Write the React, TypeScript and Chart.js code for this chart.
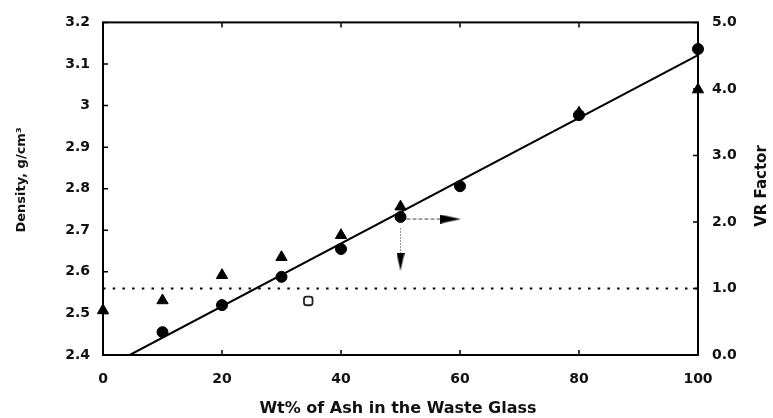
import { useEffect, useRef } from "react";
import { Chart, registerables } from "chart.js";

Chart.register(...registerables);

// ---- data ----
const densityPct = [10, 20, 30, 40, 50, 60, 80, 100];
const densityVals = [2.455, 2.52, 2.588, 2.655, 2.732, 2.806, 2.977, 3.136];

const vrPct = [0, 10, 20, 30, 40, 50, 80, 100];
const vrVals = [0.67, 0.82, 1.2, 1.47, 1.8, 2.23, 3.64, 3.99];

const fitPct = [4.5, 100];
const fitDensity = [2.4, 3.121];

const refPct = [0, 100];
const refVR = [1.0, 1.0];

// arrows (data coordinates)
const arrowRightPct = [50, 57];
const arrowRightDensity = [2.727, 2.727];
const arrowRightHead = { x: 58.4, y: 2.727 };
const arrowDownPct = [50, 50];
const arrowDownDensity = [2.705, 2.645];
const arrowDownHead = { x: 50, y: 2.624 };

const strayMark = { x: 34.5, y: 2.53 };

const xTicks = [0, 20, 40, 60, 80, 100];
const densityTicks = [2.4, 2.5, 2.6, 2.7, 2.8, 2.9, 3.0, 3.1, 3.2];
const vrTicks = [0, 1, 2, 3, 4, 5];

const xTitle = "Wt% of Ash in the Waste Glass";
const leftTitle = "Density, g/cm\u00B3";
const rightTitle = "VR Factor";

const FONT = "'DejaVu Sans', 'Liberation Sans', Arial, sans-serif";

function makeArrowHead(len: number, wid: number): HTMLCanvasElement {
  const c = document.createElement("canvas");
  c.width = len;
  c.height = wid;
  const g = c.getContext("2d")!;
  g.fillStyle = "#000";
  g.beginPath();
  g.moveTo(0, 0);
  g.lineTo(len, wid / 2);
  g.lineTo(0, wid);
  g.closePath();
  g.fill();
  return c;
}

const framePlugin = {
  id: "frameTicks",
  beforeDatasetsDraw(chart: any) {
    const { ctx, chartArea: a, scales } = chart;
    ctx.save();
    ctx.strokeStyle = "#000";
    ctx.lineWidth = 2;
    ctx.strokeRect(a.left, a.top, a.right - a.left, a.bottom - a.top);
    ctx.lineWidth = 1.5;
    const tl = 5;
    ctx.beginPath();
    xTicks.forEach((v) => {
      const px = scales.x.getPixelForValue(v);
      ctx.moveTo(px, a.bottom);
      ctx.lineTo(px, a.bottom - tl);
      ctx.moveTo(px, a.top);
      ctx.lineTo(px, a.top + tl);
    });
    densityTicks.forEach((v) => {
      const py = scales.y.getPixelForValue(v);
      ctx.moveTo(a.left, py);
      ctx.lineTo(a.left + tl, py);
    });
    vrTicks.forEach((v) => {
      const py = scales.y2.getPixelForValue(v);
      ctx.moveTo(a.right, py);
      ctx.lineTo(a.right - tl, py);
    });
    ctx.stroke();
    ctx.restore();
  },
  afterDraw(chart: any) {
    const { ctx } = chart;
    ctx.save();
    ctx.fillStyle = "#111";
    ctx.textAlign = "center";
    ctx.textBaseline = "middle";
    ctx.font = `bold 16px ${FONT}`;
    ctx.fillText(xTitle, 398, 409);
    ctx.font = `bold 13px ${FONT}`;
    ctx.translate(22, 180);
    ctx.rotate(-Math.PI / 2);
    ctx.fillText(leftTitle, 0, 0);
    ctx.restore();
    ctx.save();
    ctx.fillStyle = "#111";
    ctx.textAlign = "center";
    ctx.textBaseline = "middle";
    ctx.font = `bold 15px ${FONT}`;
    ctx.translate(762, 186);
    ctx.rotate(-Math.PI / 2);
    ctx.fillText(rightTitle, 0, 0);
    ctx.restore();
  },
};

export default function App() {
  const ref = useRef<HTMLCanvasElement | null>(null);

  useEffect(() => {
    document.body.style.margin = "0";
    const canvas = ref.current!;
    const headRight = makeArrowHead(21, 9);
    const headDown = makeArrowHead(18, 8);

    const zip = (xs: number[], ys: number[]) => xs.map((x, i) => ({ x, y: ys[i] }));

    const chart = new Chart(canvas, {
      type: "scatter",
      data: {
        datasets: [
          {
            label: "fit",
            data: zip(fitPct, fitDensity),
            showLine: true,
            borderColor: "#000",
            borderWidth: 2,
            pointRadius: 0,
            yAxisID: "y",
          },
          {
            label: "ref",
            data: zip(refPct, refVR),
            showLine: true,
            borderColor: "#000",
            borderWidth: 2,
            borderDash: [2.5, 7.2],
            pointRadius: 0,
            yAxisID: "y2",
          },
          {
            label: "density",
            data: zip(densityPct, densityVals),
            backgroundColor: "#000",
            borderColor: "#000",
            pointStyle: "circle",
            pointRadius: 5.5,
            yAxisID: "y",
            clip: false,
          },
          {
            label: "vr",
            data: zip(vrPct, vrVals),
            backgroundColor: "#000",
            borderColor: "#000",
            pointStyle: "triangle",
            pointRadius: 6.5,
            yAxisID: "y2",
            clip: false,
          },
          {
            label: "arrowR",
            data: zip(arrowRightPct, arrowRightDensity),
            showLine: true,
            borderColor: "#444",
            borderWidth: 1,
            borderDash: [4, 2],
            pointRadius: 0,
            yAxisID: "y",
          },
          {
            label: "arrowRHead",
            data: [arrowRightHead],
            pointStyle: headRight,
            yAxisID: "y",
          },
          {
            label: "arrowD",
            data: zip(arrowDownPct, arrowDownDensity),
            showLine: true,
            borderColor: "#777",
            borderWidth: 1,
            borderDash: [1.5, 1.5],
            pointRadius: 0,
            yAxisID: "y",
          },
          {
            label: "arrowDHead",
            data: [arrowDownHead],
            pointStyle: headDown,
            rotation: 90,
            yAxisID: "y",
          },
          {
            label: "stray",
            data: [strayMark],
            pointStyle: "rectRounded",
            pointRadius: 5,
            backgroundColor: "rgba(0,0,0,0)",
            borderColor: "#222",
            borderWidth: 1.8,
            yAxisID: "y",
          },
        ],
      },
      options: {
        responsive: false,
        animation: false,
        events: [],
        layout: { padding: { top: 22, left: 0, right: 0, bottom: 0 } },
        plugins: { legend: { display: false }, tooltip: { enabled: false } },
        scales: {
          x: {
            type: "linear",
            min: 0,
            max: 100,
            afterBuildTicks: (s: any) => {
              s.ticks = xTicks.map((v) => ({ value: v }));
            },
            afterFit: (s: any) => {
              s.height = 63;
            },
            grid: { display: false, drawTicks: false, tickLength: 0 },
            border: { display: false },
            ticks: {
              color: "#111",
              font: { family: FONT, size: 14, weight: "bold" },
              padding: 16,
              maxRotation: 0,
            },
          },
          y: {
            type: "linear",
            position: "left",
            min: 2.4,
            max: 3.2,
            afterBuildTicks: (s: any) => {
              s.ticks = densityTicks.map((v) => ({ value: v }));
            },
            afterFit: (s: any) => {
              s.width = 103;
            },
            grid: { display: false, drawTicks: false, tickLength: 0 },
            border: { display: false },
            ticks: {
              color: "#111",
              font: { family: FONT, size: 14, weight: "bold" },
              padding: 13,
              callback: (v: any) => String(Number(Number(v).toFixed(1))),
            },
          },
          y2: {
            type: "linear",
            position: "right",
            min: 0,
            max: 5,
            afterBuildTicks: (s: any) => {
              s.ticks = vrTicks.map((v) => ({ value: v }));
            },
            afterFit: (s: any) => {
              s.width = 75;
            },
            grid: { display: false, drawTicks: false, tickLength: 0 },
            border: { display: false },
            ticks: {
              color: "#111",
              font: { family: FONT, size: 14, weight: "bold" },
              padding: 14,
              callback: (v: any) => Number(v).toFixed(1),
            },
          },
        },
      },
      plugins: [framePlugin],
    } as any);

    return () => chart.destroy();
  }, []);

  return <canvas ref={ref} width={773} height={418} style={{ display: "block" }} />;
}
